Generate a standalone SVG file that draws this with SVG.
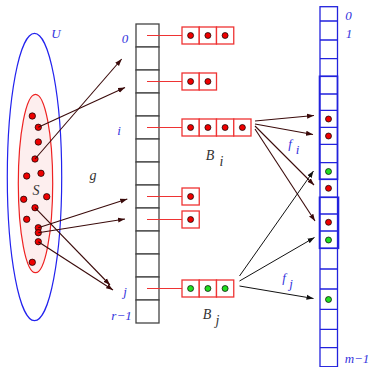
<svg xmlns="http://www.w3.org/2000/svg" width="372" height="367" viewBox="0 0 372 367">
<defs>
<marker id="ah" markerWidth="8" markerHeight="6" refX="7" refY="3" orient="auto" markerUnits="userSpaceOnUse"><path d="M0,0.5 L7,3 L0,5.5 Z" fill="#3a0a0a"/></marker>
<marker id="ahk" markerWidth="8" markerHeight="6" refX="7" refY="3" orient="auto" markerUnits="userSpaceOnUse"><path d="M0,0.5 L7,3 L0,5.5 Z" fill="#111"/></marker>
<style>
.lbl{font-family:"Liberation Serif",serif;font-style:italic;font-size:13px;fill:#3333dd}
.blk{font-family:"Liberation Serif",serif;font-style:italic;font-size:14px;fill:#333}
.cell{fill:#fff;stroke:#444;stroke-width:1.3}
.bcell{fill:#fff;stroke:#ee3333;stroke-width:1.3}
.rl{stroke:#ee3333;stroke-width:1.1}
.rd{fill:#ee0000;stroke:#000;stroke-width:0.7}
.gd{fill:#22dd22;stroke:#000;stroke-width:0.7}
.mc{stroke:#3a0a0a;stroke-width:1.1;fill:none;marker-end:url(#ah)}
.kc{stroke:#111;stroke-width:1;fill:none;marker-end:url(#ahk)}
.bl{stroke:#2222dd;stroke-width:1.3;fill:none}
</style>
</defs>
<rect width="372" height="367" fill="#fff"/>

<g id="universe">
<ellipse cx="34.5" cy="177" rx="27.2" ry="143.7" fill="none" stroke="#2222ee" stroke-width="1.2"/>
<text class="lbl" x="56" y="38" text-anchor="middle" font-size="14">U</text>
</g>
<g id="set-S">
<ellipse cx="35.5" cy="183.5" rx="17.2" ry="89.2" fill="#fdeeee" stroke="#ee2222" stroke-width="1.2"/>
<text class="blk" x="36" y="195" text-anchor="middle">S</text>
<circle class="rd" cx="32.3" cy="116" r="3.2"/>
<circle class="rd" cx="38.3" cy="127.3" r="3.2"/>
<circle class="rd" cx="38.3" cy="142" r="3.2"/>
<circle class="rd" cx="35" cy="159" r="3.2"/>
<circle class="rd" cx="26.7" cy="176" r="3.2"/>
<circle class="rd" cx="41" cy="173.3" r="3.2"/>
<circle class="rd" cx="46.7" cy="196.7" r="3.2"/>
<circle class="rd" cx="23.7" cy="199.3" r="3.2"/>
<circle class="rd" cx="35" cy="207.7" r="3.2"/>
<circle class="rd" cx="26.7" cy="219.3" r="3.2"/>
<circle class="rd" cx="38.3" cy="227.7" r="3.2"/>
<circle class="rd" cx="38.3" cy="232.7" r="3.2"/>
<circle class="rd" cx="38.3" cy="241.7" r="3.2"/>
<circle class="rd" cx="32.3" cy="262.3" r="3.2"/>
</g>

<g id="hash-table">
<rect class="cell" x="136" y="24" width="23" height="23"/>
<rect class="cell" x="136" y="47" width="23" height="23"/>
<rect class="cell" x="136" y="70" width="23" height="23"/>
<rect class="cell" x="136" y="93" width="23" height="23"/>
<rect class="cell" x="136" y="116" width="23" height="23"/>
<rect class="cell" x="136" y="139" width="23" height="23"/>
<rect class="cell" x="136" y="162" width="23" height="23"/>
<rect class="cell" x="136" y="185" width="23" height="23"/>
<rect class="cell" x="136" y="208" width="23" height="23"/>
<rect class="cell" x="136" y="231" width="23" height="23"/>
<rect class="cell" x="136" y="254" width="23" height="23"/>
<rect class="cell" x="136" y="277" width="23" height="23"/>
<rect class="cell" x="136" y="300" width="23" height="23"/>
<text class="lbl" x="125" y="42.5" text-anchor="middle">0</text>
<text class="lbl" x="119" y="134.5" text-anchor="middle">i</text>
<text class="lbl" x="125" y="295.5" text-anchor="middle">j</text>
<text class="lbl" x="121.5" y="319.5" text-anchor="middle">r−1</text>
<text class="blk" x="93" y="180" text-anchor="middle">g</text>
</g>

<g id="bucket-0">
<line class="rl" x1="147" y1="35.5" x2="182" y2="35.5"/>
<rect class="bcell" x="182" y="27" width="17.25" height="17"/>
<rect class="bcell" x="199.25" y="27" width="17.25" height="17"/>
<rect class="bcell" x="216.5" y="27" width="17.25" height="17"/>
<circle class="rd" cx="190.6" cy="35.5" r="3"/>
<circle class="rd" cx="207.9" cy="35.5" r="3"/>
<circle class="rd" cx="225.1" cy="35.5" r="3"/>
</g>
<g id="bucket-2">
<line class="rl" x1="147" y1="81.5" x2="182" y2="81.5"/>
<rect class="bcell" x="182" y="73" width="17.25" height="17"/>
<rect class="bcell" x="199.25" y="73" width="17.25" height="17"/>
<circle class="rd" cx="190.6" cy="81.5" r="3"/>
<circle class="rd" cx="207.9" cy="81.5" r="3"/>
</g>
<g id="bucket-i">
<line class="rl" x1="147" y1="127.5" x2="182" y2="127.5"/>
<rect class="bcell" x="182" y="119" width="17.25" height="17"/>
<rect class="bcell" x="199.25" y="119" width="17.25" height="17"/>
<rect class="bcell" x="216.5" y="119" width="17.25" height="17"/>
<rect class="bcell" x="233.75" y="119" width="17.25" height="17"/>
<circle class="rd" cx="190.6" cy="127.5" r="3"/>
<circle class="rd" cx="207.9" cy="127.5" r="3"/>
<circle class="rd" cx="225.1" cy="127.5" r="3"/>
<circle class="rd" cx="242.4" cy="127.5" r="3"/>
<text class="blk" x="210" y="160" text-anchor="middle">B</text>
<text class="blk" x="221.5" y="165.5" text-anchor="middle" font-size="12">i</text>
</g>
<g id="bucket-7">
<line class="rl" x1="147" y1="196.5" x2="182" y2="196.5"/>
<rect class="bcell" x="182" y="188" width="17.25" height="17"/>
<circle class="rd" cx="190.6" cy="196.5" r="3"/>
</g>
<g id="bucket-8">
<line class="rl" x1="147" y1="219.5" x2="182" y2="219.5"/>
<rect class="bcell" x="182" y="211" width="17.25" height="17"/>
<circle class="rd" cx="190.6" cy="219.5" r="3"/>
</g>
<g id="bucket-j">
<line class="rl" x1="147" y1="288.5" x2="182" y2="288.5"/>
<rect class="bcell" x="182" y="280" width="17.25" height="17"/>
<rect class="bcell" x="199.25" y="280" width="17.25" height="17"/>
<rect class="bcell" x="216.5" y="280" width="17.25" height="17"/>
<circle class="gd" cx="190.6" cy="288.5" r="3"/>
<circle class="gd" cx="207.9" cy="288.5" r="3"/>
<circle class="gd" cx="225.1" cy="288.5" r="3"/>
<text class="blk" x="207" y="318.5" text-anchor="middle">B</text>
<text class="blk" x="217.5" y="324.5" text-anchor="middle" font-size="12">j</text>
</g>

<g id="target-table">
<rect class="bl" x="320" y="6.7" width="17.5" height="360"/>
<path class="bl" d="M320,21H337.5M320,40H337.5M320,58.7H337.5M320,76.3H337.5M320,94H337.5M320,110.3H337.5M320,127.3H337.5M320,144.3H337.5M320,162.7H337.5M320,179.3H337.5M320,197.3H337.5M320,214H337.5M320,231H337.5M320,248.3H337.5M320,269H337.5M320,289H337.5M320,309.3H337.5M320,329.3H337.5M320,347.7H337.5"/>
<rect x="319.5" y="76.3" width="18" height="103" fill="none" stroke="#2222dd" stroke-width="1.6"/>
<rect x="319.5" y="197.3" width="19" height="51" fill="none" stroke="#2222dd" stroke-width="1.6"/>
<circle class="rd" cx="328.5" cy="119" r="3"/>
<circle class="rd" cx="328.5" cy="136" r="3"/>
<circle class="gd" cx="328.5" cy="171.5" r="3"/>
<circle class="rd" cx="328.5" cy="188.3" r="3"/>
<circle class="rd" cx="328.5" cy="222.3" r="3"/>
<circle class="gd" cx="328.5" cy="240" r="3"/>
<circle class="gd" cx="328.5" cy="299.5" r="3"/>
<text class="lbl" x="348.5" y="19.5" text-anchor="middle">0</text>
<text class="lbl" x="349" y="38" text-anchor="middle">1</text>
<text class="lbl" x="357" y="362.5" text-anchor="middle">m−1</text>
</g>

<g id="connectors">
<line class="mc" x1="38.3" y1="127.3" x2="125" y2="87.5"/>
<line class="mc" x1="35" y1="159" x2="121.7" y2="59"/>
<line class="mc" x1="38.3" y1="227.7" x2="127.3" y2="199"/>
<line class="mc" x1="38.3" y1="232.7" x2="125" y2="219"/>
<line class="mc" x1="35" y1="207.7" x2="110" y2="285"/>
<line class="mc" x1="38.3" y1="241.7" x2="113" y2="290"/>
<line class="mc" x1="255" y1="121" x2="314" y2="115.5"/>
<line class="mc" x1="255" y1="124" x2="313" y2="134.5"/>
<line class="mc" x1="255" y1="126" x2="314" y2="185"/>
<line class="mc" x1="255" y1="129" x2="315" y2="221"/>
<line class="kc" x1="239.5" y1="276" x2="313.5" y2="171"/>
<line class="kc" x1="239.5" y1="281" x2="314.5" y2="237.5"/>
<line class="kc" x1="239.5" y1="286" x2="313.5" y2="298.5"/>
<text class="lbl" x="290" y="148" text-anchor="middle" font-size="15">f</text>
<text class="lbl" x="297.5" y="153.5" text-anchor="middle" font-size="12">i</text>
<text class="lbl" x="284" y="282" text-anchor="middle" font-size="15">f</text>
<text class="lbl" x="291" y="287.5" text-anchor="middle" font-size="12">j</text>
</g>
</svg>
